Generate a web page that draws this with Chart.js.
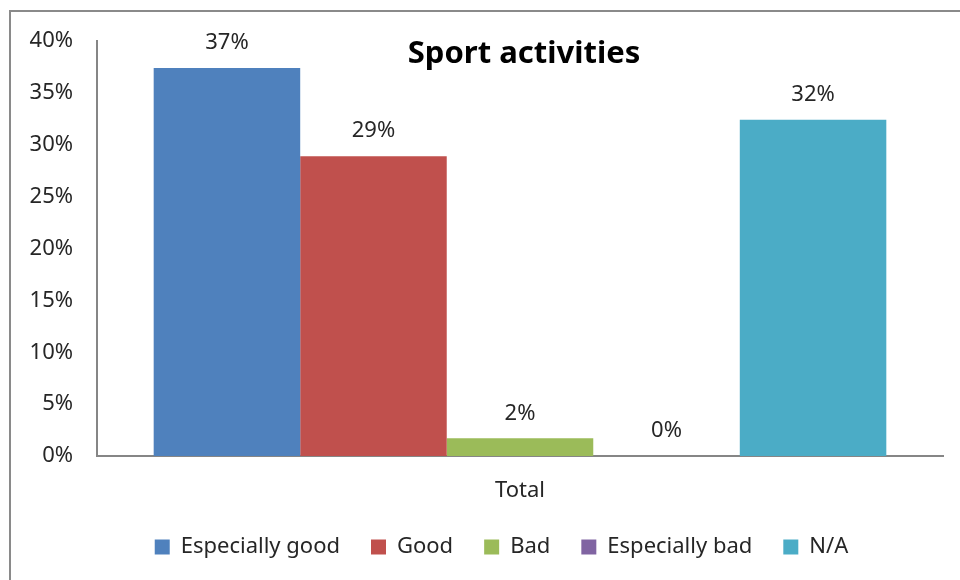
<!DOCTYPE html>
<html>
<head>
<meta charset="utf-8">
<script src="https://cdn.jsdelivr.net/npm/chart.js@4.4.1/dist/chart.umd.min.js"></script>
<style>
  html, body { margin: 0; padding: 0; background: #fff; overflow: hidden; }
  #frame { position: absolute; left: 9px; top: 10px; width: 1000px; height: 700px; border: 2px solid #8a8a8a; }
  #wrap { position: absolute; left: 0; top: 0; width: 960px; height: 580px; }
</style>
</head>
<body>
<div id="frame"></div>
<div id="wrap"><canvas id="grafico" width="960" height="580"></canvas></div>
<script>
// categorias e valores (%)
const categorias = ['Total'];
const series = ['Especially good', 'Good', 'Bad', 'Especially bad', 'N/A'];
const valores = [37.4, 28.9, 1.7, 0, 32.4];
const cores = ['#4F81BD', '#C0504D', '#9BBB59', '#8064A2', '#4BACC6'];
const ticksY = [0, 5, 10, 15, 20, 25, 30, 35, 40];
const titulo = 'Sport activities';

const fonte = "'Noto Sans', 'Open Sans', sans-serif";

// rótulos de valor em cima de cada barra
const rotulos = {
  id: 'rotulos',
  afterDatasetsDraw(chart) {
    const ctx = chart.ctx;
    ctx.save();
    ctx.font = '22px ' + fonte;
    ctx.fillStyle = '#262626';
    ctx.textAlign = 'center';
    ctx.textBaseline = 'bottom';
    chart.data.datasets.forEach((ds, i) => {
      chart.getDatasetMeta(i).data.forEach((bar, j) => {
        ctx.fillText(Math.round(ds.data[j]) + '%', bar.x, bar.y - 14);
      });
    });
    ctx.restore();
  }
};

// título sobreposto à área do gráfico
const tituloSobre = {
  id: 'tituloSobre',
  afterDraw(chart) {
    const ctx = chart.ctx;
    const a = chart.chartArea;
    ctx.save();
    ctx.font = 'bold 31px ' + fonte;
    ctx.fillStyle = '#000';
    ctx.textAlign = 'center';
    ctx.textBaseline = 'middle';
    ctx.fillText(titulo, (a.left + a.right) / 2 + 4, a.top + 13);
    ctx.restore();
  }
};

// legenda centrada um pouco mais à direita (a partir do eixo y)
const legendaDesloc = {
  id: 'legendaDesloc',
  afterLayout(chart) {
    if (chart.legend) chart.legend.left += 60;
  }
};

const ctx = document.getElementById('grafico').getContext('2d');
new Chart(ctx, {
  type: 'bar',
  data: {
    labels: categorias,
    datasets: series.map((s, i) => ({
      label: s,
      data: [valores[i]],
      backgroundColor: cores[i],
      borderWidth: 0
    }))
  },
  options: {
    responsive: false,
    animation: false,
    layout: { padding: { left: 0, right: 17, top: 41, bottom: 12 } },
    datasets: { bar: { categoryPercentage: 0.866, barPercentage: 1.0 } },
    scales: {
      x: {
        grid: { display: false, drawTicks: false },
        border: { display: true, color: '#868686', width: 2 },
        ticks: { color: '#262626', font: { family: fonte, size: 22 }, padding: 22 },
        afterFit: (s) => { s.height = 49; }
      },
      y: {
        min: 0,
        max: 40,
        afterBuildTicks: (s) => { s.ticks = ticksY.map(v => ({ value: v })); },
        grid: { display: false, drawTicks: false },
        border: { display: true, color: '#868686', width: 2 },
        ticks: {
          color: '#262626',
          font: { family: fonte, size: 22 },
          padding: 24,
          callback: (v) => v + '%'
        },
        afterFit: (s) => { s.width = 97; }
      }
    },
    plugins: {
      title: { display: false },
      tooltip: { enabled: false },
      legend: {
        position: 'bottom',
        labels: {
          color: '#262626',
          font: { family: fonte, size: 22 },
          boxWidth: 15,
          boxHeight: 15,
          padding: 31
        }
      }
    }
  },
  plugins: [rotulos, tituloSobre, legendaDesloc]
});
</script>
</body>
</html>
